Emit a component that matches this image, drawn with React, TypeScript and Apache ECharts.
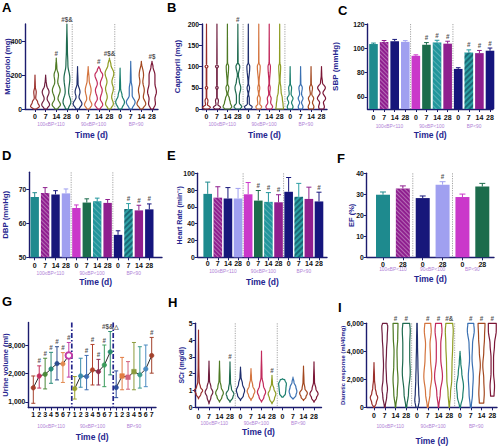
import React, { useEffect, useRef } from "react";
import * as echarts from "echarts";

// ---------------- DATA ----------------
const doseDays = ["0", "7", "14", "28"];
const bpGroups = ["100≤BP<110", "90≤BP<100", "BP<90"];
const dayLabels = [...doseDays, ...doseDays, ...doseDays];
const efDayLabels = ["0", "28", "0", "28", "0", "28"];
const weekDays = ["1", "2", "3", "4", "5", "6", "7"];
const urineDayLabels = [...weekDays, ...weekDays, ...weekDays];

const violinColors = ["#9A2E2A", "#6E1D3E", "#4E7A24", "#1F6B50", "#1F2E6E", "#D4743E", "#C22A5C", "#8E9C22", "#1B7F6E", "#3A70B2", "#A3481F", "#7B1636"];
const barColors = ["#1E8A8E", "#8F1F8F", "#17177A", "#A0A0F0", "#CA38CA", "#1C6C4C", "#22969C", "#8F1F8F", "#15157A", "#2D9FA4", "#8F1F8F", "#15157D"];
const barPatterns = ["", "cross", "", "", "", "", "dots", "", "", "diag", "", ""];
const efColors = ["#1E8A8E", "#8F1F8F", "#17177A", "#A0A0F0", "#CA38CA", "#1C6C4C"];
const efPatterns = ["", "cross", "", "", "", ""];
const urineColors = [
  "#A4402C", "#C4305E", "#4C8A3A", "#2A8A78", "#2C4C8E", "#E28A50", "#C23CA8",
  "#9CA22C", "#3A8CAA", "#3C6CB2", "#B2432C", "#8C2C4C", "#3C9C5C", "#2A8C6C",
  "#2C4C9C", "#E27C42", "#D2627C", "#8C9C3C", "#3C9C8C", "#4C8CC2", "#A2422C",
];

// A: Metoprolol violins, [value, relative half-width]
const metoprololViolins = [
  [[0, 0.35], [15, 0.9], [40, 0.55], [65, 0.15], [100, 0.25], [130, 0.06], [200, 0]],
  [[0, 0.3], [25, 0.8], [60, 0.3], [100, 0.7], [140, 0.2], [170, 0.06], [200, 0]],
  [[0, 0.3], [25, 0.85], [60, 0.35], [110, 0.8], [160, 0.3], [200, 0.45], [240, 0.12], [300, 0]],
  [[0, 0.3], [40, 0.8], [100, 0.35], [180, 0.6], [260, 0.2], [350, 0.1], [500, 0]],
  [[0, 0.35], [30, 0.9], [70, 0.3], [100, 0.5], [150, 0.1], [250, 0]],
  [[0, 0.3], [25, 0.75], [60, 0.3], [110, 0.6], [170, 0.2], [250, 0]],
  [[0, 0.3], [25, 0.8], [60, 0.3], [110, 0.7], [150, 0.3], [200, 0.8], [230, 0.3], [250, 0]],
  [[0, 0.3], [30, 0.8], [70, 0.45], [120, 0.8], [160, 0.5], [210, 0.9], [260, 0.3], [300, 0]],
  [[0, 0.35], [40, 0.9], [80, 0.4], [120, 0.1], [240, 0]],
  [[0, 0.3], [40, 0.9], [80, 0.3], [120, 0.3], [170, 0.08], [280, 0]],
  [[0, 0.3], [30, 0.9], [70, 0.4], [110, 0.6], [160, 0.3], [200, 0.45], [280, 0]],
  [[0, 0.3], [30, 0.7], [60, 0.6], [100, 0.9], [150, 0.6], [200, 0.6], [250, 0.2], [280, 0]],
];
const metoprololSig = ["", "", "#", "#$&", "", "", "#", "#$&", "", "", "", "#$"];

// B: Captopril violins
const captoprilViolins = [
  [[0, 0.5], [4, 0.8], [10, 0.2], [20, 0.3], [28, 0.05], [45, 0.05], [50, 0.25], [55, 0.05], [95, 0.05], [100, 0.3], [105, 0.03], [200, 0]],
  [[0, 0.5], [4, 0.75], [10, 0.2], [20, 0.3], [28, 0.05], [45, 0.05], [50, 0.25], [55, 0.05], [95, 0.05], [100, 0.3], [105, 0.03], [200, 0]],
  [[0, 0.6], [5, 0.9], [15, 0.6], [25, 0.4], [35, 0.1], [50, 0.3], [60, 0.05], [100, 0.25], [110, 0.03], [200, 0]],
  [[0, 0.5], [5, 0.8], [15, 0.3], [30, 0.3], [50, 0.6], [65, 0.3], [80, 0.1], [100, 0.4], [110, 0.05], [200, 0]],
  [[0, 0.6], [5, 0.8], [12, 0.2], [25, 0.2], [35, 0.05], [50, 0.25], [60, 0.05], [100, 0.3], [110, 0.03], [200, 0]],
  [[0, 0.4], [5, 0.6], [12, 0.2], [25, 0.3], [35, 0.05], [50, 0.2], [60, 0.05], [100, 0.3], [110, 0.03], [200, 0]],
  [[0, 0.5], [5, 0.7], [15, 0.3], [25, 0.4], [35, 0.1], [50, 0.2], [60, 0.05], [100, 0.25], [110, 0.03], [200, 0]],
  [[0, 0.8], [10, 0.7], [25, 0.55], [40, 0.3], [50, 0.25], [65, 0.08], [100, 0.2], [110, 0.03], [200, 0]],
  [[0, 0.5], [5, 0.6], [15, 0.3], [25, 0.6], [35, 0.2], [50, 0.3], [60, 0.05], [100, 0]],
  [[0, 0.4], [5, 0.5], [15, 0.2], [25, 0.5], [35, 0.2], [50, 0.35], [60, 0.05], [100, 0]],
  [[0, 0.5], [5, 0.6], [15, 0.3], [25, 0.55], [35, 0.15], [50, 0.3], [60, 0.05], [100, 0]],
  [[0, 0.5], [5, 0.6], [15, 0.4], [25, 0.85], [38, 0.3], [50, 0.8], [62, 0.2], [80, 0.05], [100, 0]],
];
const captoprilSig = ["", "", "", "#", "", "", "", "", "", "", "", ""];

// C: SBP (mmHg)
const sbpMean = [103.5, 105.2, 105.8, 105.3, 93.8, 102.9, 104.8, 103.8, 83.0, 96.5, 96.0, 98.0];
const sbpErr = [0.8, 1.2, 1.5, 1.0, 0.8, 1.8, 1.8, 2.0, 1.0, 2.2, 2.2, 2.2];
const sbpSig = ["", "", "", "", "", "#", "#", "#", "", "#", "#", "#"];

// D: DBP (mmHg)
const dbpMean = [67.7, 68.9, 68.5, 68.8, 64.5, 66.1, 66.5, 66.0, 56.6, 64.2, 63.8, 64.1];
const dbpErr = [1.3, 1.6, 1.1, 1.3, 0.9, 1.1, 0.9, 1.0, 1.2, 1.6, 1.5, 1.6];
const dbpSig = ["", "", "", "", "", "", "", "", "", "#", "#", "#"];

// E: Heart rate
const hrMean = [75.5, 71, 70, 70, 75, 67.5, 66, 65.5, 78, 72, 69.5, 66.5];
const hrErr = [14, 13, 13, 12, 14, 12, 11, 9, 17, 16, 14, 11];
const hrSig = ["", "", "", "", "", "#", "#", "#", "", "", "", "#"];

// F: EF (%)
const efMean = [29.8, 32.8, 28.2, 34.6, 28.7, 33.7];
const efErr = [1.3, 1.2, 1.0, 1.4, 1.4, 1.5];
const efSig = ["", "", "", "#", "", ""];

// G: Urine volume (ml)
const urineMean = [1500, 1920, 1980, 2170, 2360, 2350, 2650, 1470, 1920, 1900, 2135, 2075, 2310, 2775, 1510, 1920, 1875, 2075, 1960, 2170, 2645];
const urineLow = [950, 1490, 1460, 1660, 1780, 1690, 1880, 1100, 1520, 1430, 1600, 1600, 1540, 1960, 1150, 1430, 1450, 1430, 1490, 1540, 2020];
const urineHigh = [1920, 2280, 2550, 2760, 2960, 2750, 3110, 1900, 2550, 2650, 3040, 2510, 3020, 3500, 2100, 2580, 2430, 3110, 2960, 3020, 3290];
const urineSig = ["", "#", "#", "#", "#", "#", "#", "", "", "#", "#", "#", "#", "#$&△", "", "", "", "", "", "", "#"];
const urineSymbols = ["circle", "circle", "circle", "circle", "circle", "circle", "emptyCircle", "circle", "circle", "circle", "circle", "circle", "circle", "circle", "circle", "rect", "rect", "rect", "circle", "circle", "circle"];

// H: SCr (mg/dl) violins
const scrViolins = [
  [[0.5, 0], [0.8, 0.5], [1.0, 0.85], [1.2, 0.4], [1.5, 0.15], [2.5, 0.06], [4.6, 0]],
  [[0.2, 0], [0.6, 0.4], [0.9, 0.8], [1.2, 0.4], [1.6, 0.1], [2.75, 0]],
  [[0.3, 0], [0.6, 0.5], [0.85, 0.8], [1.2, 0.35], [1.6, 0.1], [2.75, 0]],
  [[0.3, 0], [0.6, 0.6], [0.8, 0.8], [1.1, 0.3], [1.5, 0.1], [2.7, 0]],
  [[0.4, 0], [0.7, 0.6], [1.0, 0.85], [1.4, 0.4], [1.8, 0.1], [2.4, 0]],
  [[0.4, 0], [0.7, 0.5], [0.95, 0.8], [1.3, 0.35], [1.7, 0.1], [2.3, 0]],
  [[0.3, 0], [0.6, 0.5], [0.9, 0.85], [1.3, 0.4], [1.8, 0.1], [3.35, 0]],
  [[0.2, 0], [0.5, 0.5], [0.8, 0.8], [1.1, 0.4], [1.4, 0.1], [1.9, 0]],
  [[0.6, 0.15], [0.8, 0.6], [1.1, 0.7], [1.4, 0.8], [1.62, 0.5], [1.7, 0]],
  [[0.5, 0.1], [0.7, 0.6], [0.95, 0.8], [1.2, 0.6], [1.5, 0.2], [1.8, 0]],
  [[0.4, 0], [0.6, 0.5], [0.85, 0.8], [1.1, 0.3], [1.5, 0.1], [2.45, 0]],
  [[0.3, 0], [0.55, 0.5], [0.8, 0.85], [1.1, 0.4], [1.5, 0.1], [2.7, 0]],
];
const scrSig = ["", "", "", "#", "", "", "", "#", "", "", "", ""];

// I: Diuretic response (ml/40mg) violins
const diureticViolins = [
  [[0, 0.1], [300, 0.45], [700, 0.75], [1000, 0.45], [1400, 0.25], [2000, 0.1], [3200, 0]],
  [[0, 0.08], [800, 0.4], [1300, 0.55], [2000, 0.35], [3000, 0.25], [4000, 0.35], [5000, 0.5], [5800, 0.6], [6000, 0.45]],
  [[0, 0.05], [1000, 0.35], [2000, 0.5], [3000, 0.35], [4000, 0.3], [5000, 0.45], [6000, 0.5]],
  [[0, 0.1], [1000, 0.45], [2500, 0.8], [3500, 0.7], [4500, 0.7], [5500, 0.8], [6000, 0.7]],
  [[0, 0.25], [500, 0.45], [1000, 0.35], [2000, 0.25], [3000, 0.18], [4500, 0.1], [6000, 0.04]],
  [[0, 0.1], [1000, 0.45], [2200, 0.8], [3500, 0.55], [4500, 0.45], [5500, 0.7], [6000, 0.6]],
  [[0, 0.05], [1000, 0.35], [2200, 0.8], [3500, 0.45], [4500, 0.45], [5500, 0.7], [6000, 0.6]],
  [[0, 0.05], [1000, 0.25], [2000, 0.5], [3000, 0.55], [4500, 0.7], [5500, 0.8], [6000, 0.7]],
  [[0, 0.1], [800, 0.55], [1500, 0.7], [2500, 0.35], [3200, 0.15], [4000, 0]],
  [[0, 0.1], [1000, 0.35], [2200, 0.5], [3500, 0.25], [4500, 0.35], [5500, 0.7], [6000, 0.6]],
  [[300, 0.45], [1000, 0.55], [2000, 0.45], [3000, 0.25], [4000, 0.45], [5000, 0.6], [6000, 0.7]],
  [[800, 0.35], [1500, 0.45], [2500, 0.25], [3500, 0.25], [4500, 0.45], [5500, 0.8], [6000, 0.8]],
];
const diureticSig = ["", "", "#", "#", "", "#", "#", "#&", "", "#", "#", "#"];

// ---------------- STYLE / LAYOUT ----------------
const NAVY = "#1C1C6E";
const NAVY_TEXT = "#25258F";
const GROUP_TEXT = "#B07FD6";
const FONT = "'Liberation Sans', Arial, Helvetica, sans-serif";

const panels = [
  { letter: "A", lx: 2, ly: 0.5, left: 25, right: 158, top: 24, bottom: 109, c0: 35, cN: 152, labels: dayLabels, groups: bpGroups, yMin: 0, yMax: 500, yTicks: [0, 200, 400], yName: "Metoprolol (mg)", yNameSize: 7.5, nameGap: 14, lab: 7.3, grp: 15, time: 25.3 },
  { letter: "B", lx: 167, ly: 0.5, left: 202, right: 327, top: 24, bottom: 109, c0: 206.5, cN: 321.5, labels: dayLabels, groups: bpGroups, yMin: 0, yMax: 200, yTicks: [0, 50, 100, 150, 200], yName: "Captopril (mg)", yNameSize: 7.8, nameGap: 21, lab: 7.3, grp: 15, time: 25.3 },
  { letter: "C", lx: 338, ly: 4, left: 367.5, right: 493, top: 24, bottom: 109, c0: 373.5, cN: 490, labels: dayLabels, groups: bpGroups, yMin: 50, yMax: 120, yTicks: [60, 80, 100, 120], yName: "SBP (mmHg)", yNameSize: 8, nameGap: 28, lab: 8.3, grp: 17.7, time: 26 },
  { letter: "D", lx: 2, ly: 148.5, left: 29.3, right: 162, top: 172.3, bottom: 257.3, c0: 34.7, cN: 149.3, labels: dayLabels, groups: bpGroups, yMin: 50, yMax: 75, yTicks: [50, 60, 70], yName: "DBP (mmHg)", yNameSize: 7.8, nameGap: 19.5, lab: 8, grp: 15.7, time: 24.7 },
  { letter: "E", lx: 167, ly: 148.5, left: 197.7, right: 327, top: 173.3, bottom: 257.3, c0: 207.7, cN: 319, labels: dayLabels, groups: bpGroups, yMin: 0, yMax: 100, yTicks: [0, 20, 40, 60, 80, 100], yName: "Heart Rate (min⁻¹)", yNameSize: 7, nameGap: 14.5, lab: 6.5, grp: 14.4, time: 24.4 },
  { letter: "F", lx: 337, ly: 151.5, left: 366.7, right: 494, top: 173.3, bottom: 257.3, c0: 383, cN: 482.3, labels: efDayLabels, groups: bpGroups, yMin: 0, yMax: 40, yTicks: [0, 10, 20, 30, 40], yName: "EF (%)", yNameSize: 7.5, nameGap: 11.4, lab: 7, grp: 12.5, time: 21.3 },
  { letter: "G", lx: 2, ly: 294.5, left: 28.3, right: 156, top: 322.5, bottom: 407.5, c0: 33.3, cN: 151.7, labels: urineDayLabels, groups: bpGroups, yMin: 800, yMax: 3820, yTicks: [1000, 2000, 3000], yName: "Urine volume (ml)", yNameSize: 7.5, nameGap: 19, lab: 7, grp: 18.7, time: 29.4 },
  { letter: "H", lx: 168, ly: 295.5, left: 195.5, right: 321.5, top: 323.3, bottom: 407.3, c0: 198.5, cN: 314, labels: dayLabels, groups: bpGroups, yMin: 0, yMax: 5, yTicks: [0, 1, 2, 3, 4, 5], yName: "SCr (mg/dl)", yNameSize: 6.8, nameGap: 10.5, lab: 8.7, grp: 16, time: 24.4 },
  { letter: "I", lx: 338, ly: 300.5, left: 366.7, right: 497, top: 323.3, bottom: 407.3, c0: 374, cN: 492.3, labels: dayLabels, groups: bpGroups, yMin: 0, yMax: 6000, yTicks: [0, 2000, 4000, 6000], yName: "Diuretic response (ml/40mg)", yNameSize: 5.9, nameGap: 20.5, lab: 7.7, grp: 19.4, time: 33.5 },
];

function decalFor(kind: string): any {
  if (kind === "cross") return { symbol: "rect", symbolSize: 1, dashArrayX: [1, 0], dashArrayY: [1, 2], rotation: Math.PI / 4, color: "rgba(255,255,255,0.35)" };
  if (kind === "diag") return { symbol: "rect", symbolSize: 1, dashArrayX: [1, 0], dashArrayY: [1.2, 1.8], rotation: -Math.PI / 4, color: "rgba(0,40,60,0.45)" };
  if (kind === "dots") return { symbol: "rect", symbolSize: 1, dashArrayX: [1, 0], dashArrayY: [1, 2.5], rotation: Math.PI / 4, color: "rgba(255,255,255,0.25)" };
  return undefined;
}

// smooth (non-overshooting) outline between the knots of a violin profile, for drawing only
function outline(pr: number[][], steps: number): number[][] {
  const out: number[][] = [[pr[0][0], pr[0][1]]];
  for (let s = 1; s < pr.length; s++) {
    const [v0, w0] = pr[s - 1];
    const [v1, w1] = pr[s];
    for (let j = 1; j <= steps; j++) {
      const t = j / steps;
      const e = (1 - Math.cos(Math.PI * t)) / 2;
      out.push([v0 + (v1 - v0) * t, w0 + (w1 - w0) * e]);
    }
  }
  return out;
}

function buildOption() {
  const grid: any[] = [];
  const xAxis: any[] = [];
  const yAxis: any[] = [];
  const title: any[] = [];
  panels.forEach((p, k) => {
    const n = p.labels.length;
    const u = (p.cN - p.c0) / (n - 1);
    const min = -(p.c0 - p.left) / u;
    const max = n - 1 + (p.right - p.cN) / u;
    const idx = p.labels.map((_, i) => i);
    const gsize = n / p.groups.length;
    const gIdx = p.groups.map((_, g) => g * gsize + (gsize - 1) / 2);
    grid.push({ left: p.left, top: p.top, width: p.right - p.left, height: p.bottom - p.top, containLabel: false, outerBoundsMode: "none" });
    xAxis.push({
      type: "value", gridIndex: k, position: "bottom", min, max, splitLine: { show: false },
      axisLine: { show: true, onZero: false, lineStyle: { color: NAVY, width: 1.4 } },
      axisTick: { show: true, customValues: idx, length: 3, lineStyle: { color: NAVY, width: 1 } },
      axisLabel: { customValues: idx, formatter: (v: number) => p.labels[Math.round(v)] ?? "", fontSize: 7, fontWeight: "bold", color: "#111", margin: p.lab - 3.5, fontFamily: FONT },
    });
    const off = p.grp - 2.4;
    xAxis.push({
      type: "value", gridIndex: k, position: "bottom", offset: off, min, max, splitLine: { show: false },
      axisLine: { show: false, onZero: false }, axisTick: { show: false },
      axisLabel: {
        customValues: gIdx,
        formatter: (v: number) => { const g = gIdx.findIndex((c) => Math.abs(c - v) < 1e-6); return g >= 0 ? p.groups[g] : ""; },
        fontSize: 4.8, color: GROUP_TEXT, margin: 0, fontFamily: FONT,
      },
      name: "Time (d)", nameLocation: "middle", nameGap: p.time - off - 4.25, nameMoveOverlap: false,
      nameTextStyle: { fontSize: 8.5, fontWeight: "bold", color: NAVY_TEXT, fontFamily: FONT },
    });
    yAxis.push({
      type: "value", gridIndex: k, min: p.yMin, max: p.yMax, splitLine: { show: false },
      axisLine: { show: true, onZero: false, lineStyle: { color: NAVY, width: 1.4 } },
      axisTick: { show: true, customValues: p.yTicks, length: 3, lineStyle: { color: NAVY, width: 1 } },
      axisLabel: { customValues: p.yTicks, fontSize: 6.8, fontWeight: "bold", color: "#111", margin: 3, fontFamily: FONT },
      name: p.yName, nameLocation: "middle", nameGap: p.nameGap, nameMoveOverlap: false,
      nameTextStyle: { fontSize: p.yNameSize, fontWeight: "bold", color: NAVY_TEXT, fontFamily: FONT },
    });
    title.push({ text: p.letter, left: p.lx, top: p.ly, padding: 0, textStyle: { fontSize: 13, fontWeight: "bold", color: "#000", fontFamily: FONT } });
  });

  const axisRef = (k: number) => ({ xAxisIndex: 2 * k, yAxisIndex: k });

  const violinSeries = (k: number, profiles: number[][][], colors: string[]) => ({
    type: "custom", ...axisRef(k), silent: true,
    data: profiles.map((pr, i) => [i, pr[pr.length - 1][0]]),
    renderItem: (params: any, api: any) => {
      const i = api.value(0);
      const pr = outline(profiles[i], 6);
      const unit = api.size([1, 0])[0];
      const half = unit * 0.46;
      const cx = api.coord([i, pr[0][0]])[0];
      const right = pr.map(([v, w]) => [cx + w * half, api.coord([i, v])[1]]);
      const left = pr.slice().reverse().map(([v, w]) => [cx - w * half, api.coord([i, v])[1]]);
      return {
        type: "polygon",
        shape: { points: [...right, ...left] },
        style: { fill: "none", stroke: colors[i], lineWidth: 1.2, lineJoin: "round" },
      };
    },
  });

  const sepSeries = (k: number, style: any) => {
    const p = panels[k];
    const gsize = p.labels.length / p.groups.length;
    const pos = p.groups.slice(1).map((_, g) => (g + 1) * gsize - 0.5);
    return {
      type: "custom", ...axisRef(k), silent: true, z: 1,
      data: pos.map((x) => [x, p.yMin]),
      renderItem: (params: any, api: any) => {
        const x = api.coord([api.value(0), p.yMin])[0];
        const cs = params.coordSys;
        return { type: "line", shape: { x1: x, y1: cs.y, x2: x, y2: cs.y + cs.height }, style: { ...style, fill: null } };
      },
    };
  };

  const sigSeries = (k: number, sig: string[], tops: number[]) => ({
    type: "scatter", ...axisRef(k), silent: true, symbolSize: 1, itemStyle: { color: "rgba(0,0,0,0)" },
    data: sig.map((s, i) => ({ value: [i, tops[i]], name: s })).filter((d) => d.name !== ""),
    label: { show: true, position: "top", distance: 1.5, formatter: (q: any) => q.name, fontSize: 6.3, fontWeight: "bold", color: "#222", fontFamily: FONT },
    z: 5,
  });

  const barSeries = (k: number, means: number[], colors: string[], patterns: string[], width: number) => ({
    type: "bar", ...axisRef(k), barWidth: width, silent: true, clip: true,
    data: means.map((m, i) => ({ value: [i, m], itemStyle: { color: colors[i], decal: decalFor(patterns[i]) } })),
  });

  const errSeries = (k: number, lows: number[], highs: number[], colors: string[], capFrac: number, both: boolean) => ({
    type: "custom", ...axisRef(k), silent: true, z: 3,
    data: lows.map((l, i) => [i, l, highs[i]]),
    renderItem: (params: any, api: any) => {
      const i = api.value(0);
      const p0 = api.coord([i, api.value(1)]);
      const p1 = api.coord([i, api.value(2)]);
      const cap = api.size([1, 0])[0] * capFrac;
      const st = { stroke: colors[i], lineWidth: 1 };
      const children: any[] = [
        { type: "line", shape: { x1: p0[0], y1: p0[1], x2: p1[0], y2: p1[1] }, style: st },
        { type: "line", shape: { x1: p1[0] - cap, y1: p1[1], x2: p1[0] + cap, y2: p1[1] }, style: st },
      ];
      if (both) children.push({ type: "line", shape: { x1: p0[0] - cap, y1: p0[1], x2: p0[0] + cap, y2: p0[1] }, style: st });
      return { type: "group", children };
    },
  });

  const dotted = { stroke: "#9a9a9a", lineWidth: 0.9, lineDash: [1.2, 1.2] };
  const violinTops = (pr: number[][][]) => pr.map((v) => v[v.length - 1][0]);
  const plus = (a: number[], b: number[]) => a.map((v, i) => v + b[i]);

  const series: any[] = [];
  series.push(sepSeries(0, dotted), violinSeries(0, metoprololViolins, violinColors), sigSeries(0, metoprololSig, violinTops(metoprololViolins)));
  series.push(sepSeries(1, dotted), violinSeries(1, captoprilViolins, violinColors), sigSeries(1, captoprilSig, violinTops(captoprilViolins)));
  series.push(sepSeries(2, dotted), barSeries(2, sbpMean, barColors, barPatterns, 8.6), errSeries(2, sbpMean, plus(sbpMean, sbpErr), barColors, 0.22, false), sigSeries(2, sbpSig, plus(sbpMean, sbpErr)));
  series.push(sepSeries(3, dotted), barSeries(3, dbpMean, barColors, barPatterns, 8.4), errSeries(3, dbpMean, plus(dbpMean, dbpErr), barColors, 0.22, false), sigSeries(3, dbpSig, plus(dbpMean, dbpErr)));
  series.push(sepSeries(4, dotted), barSeries(4, hrMean, barColors, barPatterns, 8.6), errSeries(4, hrMean, plus(hrMean, hrErr), barColors, 0.25, false), sigSeries(4, hrSig, plus(hrMean, hrErr)));
  series.push(sepSeries(5, dotted), barSeries(5, efMean, efColors, efPatterns, 14), errSeries(5, efMean, plus(efMean, efErr), efColors, 0.15, false), sigSeries(5, efSig, plus(efMean, efErr)));
  series.push(sepSeries(6, { stroke: "#24248A", lineWidth: 1.7, lineDash: [5, 2, 1.5, 2] }));
  series.push(errSeries(6, urineLow, urineHigh, urineColors, 0.34, true));
  [0, 1, 2].forEach((g) => {
    const ids = weekDays.map((_, j) => g * 7 + j);
    series.push({
      type: "line", ...axisRef(6), silent: true, z: 4,
      lineStyle: { color: "#2a2a2a", width: 1 },
      data: ids.map((i) => ({
        value: [i, urineMean[i]],
        symbol: urineSymbols[i],
        symbolSize: urineSymbols[i] === "emptyCircle" ? 6.5 : 4.5,
        itemStyle: { color: urineColors[i], borderColor: urineColors[i], borderWidth: urineSymbols[i] === "emptyCircle" ? 1.3 : 0.6 },
      })),
    });
  });
  series.push(sigSeries(6, urineSig, urineHigh));
  series.push(sepSeries(7, dotted), violinSeries(7, scrViolins, violinColors), sigSeries(7, scrSig, violinTops(scrViolins)));
  series.push(sepSeries(8, dotted), violinSeries(8, diureticViolins, violinColors), sigSeries(8, diureticSig, violinTops(diureticViolins)));

  return {
    animation: false,
    backgroundColor: "#ffffff",
    textStyle: { fontFamily: FONT },
    title,
    grid,
    xAxis,
    yAxis,
    series,
  };
}

export default function App() {
  const ref = useRef<HTMLDivElement>(null);
  useEffect(() => {
    document.body.style.margin = "0";
    const chart = echarts.init(ref.current as HTMLDivElement, null, { renderer: "svg" });
    chart.setOption(buildOption() as any);
    return () => chart.dispose();
  }, []);
  return <div ref={ref} style={{ width: 500, height: 446 }} />;
}
